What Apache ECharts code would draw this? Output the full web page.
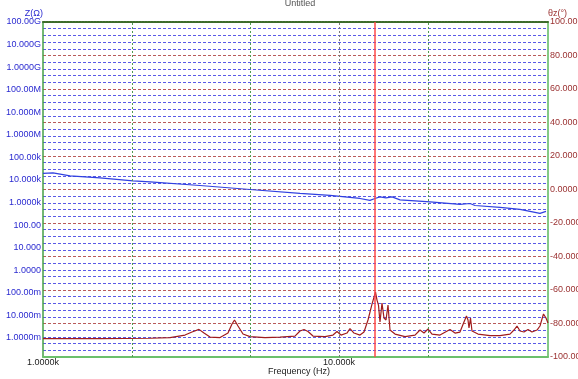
<!DOCTYPE html>
<html>
<head>
<meta charset="utf-8">
<script src="https://cdn.jsdelivr.net/npm/echarts@6/dist/echarts.min.js"></script>
<style>
  html, body { margin: 0; padding: 0; background: #fff; }
  #main { width: 578px; height: 379px; }
</style>
</head>
<body>
<div id="main"></div>
<script>
// impedance |Z| (ohm) vs frequency (Hz)
var zFreq = [1000, 1081, 1234, 1558, 2014, 2299, 3392, 5003, 7384, 9325, 11773, 12725, 13230, 13755, 14413, 15108, 16075, 20295, 25630, 27710, 28810, 34990, 40880, 47760, 50040];
var zVal = [19600, 20600, 15200, 12400, 9100, 8200, 5700, 3800, 2550, 2100, 1520, 1250, 1520, 1780, 1600, 1780, 1320, 1070, 832, 912, 741, 617, 501, 331, 407];

// phase (deg) vs frequency (Hz)
var phFreq = [1000, 1558, 2299, 2686, 3018, 3187, 3365, 3499, 3666, 3963, 4217, 4350, 4436, 4558, 4739, 5003, 5623, 6318, 7101, 7384, 7618, 7858, 8169, 8968, 9544, 9845, 10157, 10641, 10894, 11238, 11773, 12148, 12531, 12928, 13284, 13440, 13596, 13756, 13973, 14191, 14416, 14641, 14872, 15463, 16711, 18064, 18776, 19377, 19991, 20620, 21939, 23714, 24656, 25630, 26440, 26960, 27280, 27490, 27820, 28140, 29490, 32370, 34990, 37810, 39010, 39940, 40880, 42170, 43510, 44870, 46660, 47760, 49080, 50040, 50830];
var phVal = [-89.0, -89.0, -88.8, -88.4, -86.9, -85.1, -83.5, -85.7, -88.1, -88.4, -85.7, -80.3, -77.9, -81.5, -86.3, -87.8, -88.4, -88.1, -87.5, -84.5, -83.6, -84.8, -87.5, -87.8, -86.9, -84.8, -86.9, -85.7, -83.0, -85.7, -86.9, -85.1, -77.9, -68.4, -61.2, -66.0, -69.0, -79.1, -67.8, -76.7, -77.9, -69.0, -83.9, -86.3, -87.8, -86.9, -83.9, -85.7, -83.3, -86.3, -86.9, -83.6, -85.7, -85.1, -79.1, -75.5, -77.9, -82.7, -76.7, -84.5, -86.3, -87.2, -87.2, -86.3, -83.9, -81.5, -84.5, -85.1, -83.6, -85.1, -83.9, -81.5, -74.3, -76.7, -79.7];

// axes
var freqMin = 1000, freqMax = 50830;
var freqTicks = [1000, 10000];
var freqTickLabels = ['1.0000k', '10.000k'];
var freqGrid = [2000, 5000, 10000, 20000];
var cursorFreq = 13230;

var zMin = 1.44e-4, zMax = 1e11;
var zTicks = [1e-3, 1e-2, 1e-1, 1, 10, 100, 1e3, 1e4, 1e5, 1e6, 1e7, 1e8, 1e9, 1e10, 1e11];
var zTickLabels = ['1.0000m', '10.000m', '100.00m', '1.0000', '10.000', '100.00', '1.0000k', '10.000k', '100.00k', '1.0000M', '10.000M', '100.00M', '1.0000G', '10.000G', '100.00G'];

var phTicks = [-100, -80, -60, -40, -20, 0, 20, 40, 60, 80, 100];
var phTickLabels = ['-100.00', '-80.000', '-60.000', '-40.000', '-20.000', '0.0000', '20.000', '40.000', '60.000', '80.000', '100.00'];

function pairs(xs, ys) {
    return xs.map(function (x, i) { return [x, ys[i]]; });
}

var myChart = echarts.init(document.getElementById('main'));

var option = {
    animation: false,
    textStyle: { fontFamily: 'Liberation Sans' },
    title: [{
        text: 'Untitled',
        left: 295,
        textAlign: 'center',
        top: -6,
        textStyle: { fontSize: 9, fontWeight: 'normal', color: '#555' }
    }, {
        // x axis name
        text: 'Frequency (Hz)',
        left: 294,
        textAlign: 'center',
        top: 362,
        textStyle: { fontSize: 9, fontWeight: 'normal', color: '#222' }
    }],
    grid: { left: 43, right: 30, top: 22, bottom: 22, outerBoundsMode: 'none', containLabel: false },
    xAxis: [{
        type: 'log',
        min: freqMin,
        max: freqMax,
        axisLine: { onZero: false, lineStyle: { color: '#6cc06c', width: 2 } },
        axisTick: { show: false },
        splitLine: { show: false },
        axisLabel: {
            customValues: freqTicks,
            fontSize: 9,
            color: '#222',
            margin: 1,
            formatter: function (v) {
                var i = Math.round(Math.log10(v)) - 3;
                return freqTickLabels[i] || '';
            }
        }
    }, {
        type: 'value',
        position: 'top',
        axisLine: { onZero: false, lineStyle: { color: '#3d6b2a', width: 2, type: [2, 1] } },
        axisTick: { show: false },
        axisLabel: { show: false },
        splitLine: { show: false }
    }],
    yAxis: [{
        type: 'log',
        position: 'left',
        min: zMin,
        max: zMax,
        name: 'Z(Ω)',
        nameGap: 4,
        nameTextStyle: { fontSize: 9, color: '#2a2ad0', align: 'right' },
        axisLine: { show: true, onZero: false, lineStyle: { color: '#45a045', width: 1.5 } },
        axisTick: { show: false },
        splitLine: { show: false },
        minorSplitLine: { show: false },
        axisLabel: {
            customValues: zTicks,
            fontSize: 9,
            color: '#2a2ad0',
            margin: 2,
            formatter: function (v) {
                var i = Math.round(Math.log10(v)) + 3;
                return zTickLabels[i] || '';
            }
        }
    }, {
        type: 'value',
        position: 'right',
        min: -100,
        max: 100,
        interval: 20,
        name: 'θz(°)',
        nameGap: 4,
        nameTextStyle: { fontSize: 9, color: '#9a3030', align: 'left' },
        axisLine: { show: true, onZero: false, lineStyle: { color: '#5cb85c', width: 1.5 } },
        axisTick: { show: false },
        axisLabel: {
            fontSize: 9,
            color: '#9a3030',
            margin: 2,
            formatter: function (v) {
                var i = phTicks.indexOf(Math.round(v));
                return i >= 0 ? phTickLabels[i] : '';
            }
        },
        splitLine: { show: true, lineStyle: { color: '#b85a5a', width: 1, type: [3, 2] } },
        minorTick: { show: false, splitNumber: 5 },
        minorSplitLine: { show: true, lineStyle: { color: '#5a5ae6', width: 1, type: [3, 2] } }
    }],
    series: [{
        // vertical grid lines
        type: 'line',
        xAxisIndex: 0,
        yAxisIndex: 1,
        data: [],
        z: 1,
        markLine: {
            silent: true,
            symbol: 'none',
            label: { show: false },
            animation: false,
            data: freqGrid.map(function (f) {
                return { xAxis: f, lineStyle: { color: f === 10000 ? '#777' : '#4f9a4f', width: 1, type: [2, 2] } };
            })
        }
    }, {
        name: 'Z',
        type: 'line',
        xAxisIndex: 0,
        yAxisIndex: 0,
        data: pairs(zFreq, zVal),
        symbol: 'none',
        z: 3,
        lineStyle: { color: '#3040e0', width: 1.2 }
    }, {
        name: 'θz',
        type: 'line',
        xAxisIndex: 0,
        yAxisIndex: 1,
        data: pairs(phFreq, phVal),
        symbol: 'none',
        z: 3,
        lineStyle: { color: '#a01c1c', width: 1.2 },
        markLine: {
            silent: true,
            symbol: 'none',
            label: { show: false },
            animation: false,
            data: [{ xAxis: cursorFreq, lineStyle: { color: '#ff4a4a', width: 1.5, type: 'solid' } }]
        }
    }]
};

myChart.setOption(option);
</script>
</body>
</html>
